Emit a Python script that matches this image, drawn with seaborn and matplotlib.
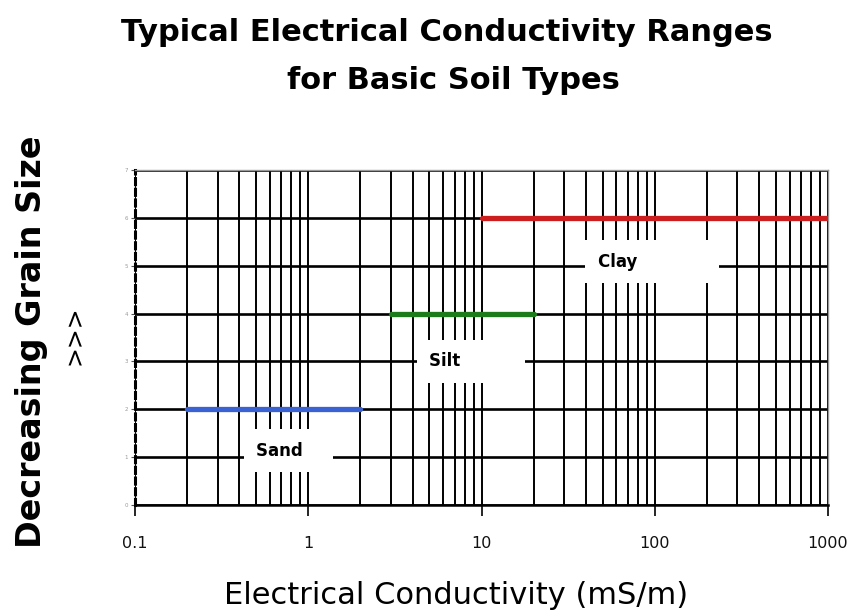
import numpy as np
import pandas as pd
import matplotlib
matplotlib.use("Agg")
import matplotlib.pyplot as plt
from matplotlib.ticker import LogLocator, FixedLocator, NullFormatter
import seaborn as sns

# conductivity ranges (mS/m) for each soil type, and the grain-size level it sits on
soils = ["Sand", "Silt", "Clay"]
ec_low = [0.2, 3, 10]
ec_high = [2, 20, 1000]
levels = [2, 4, 6]
colors = ["#3a62d2", "#1c7c1c", "#cc1e1e"]

# where the soil names go (left edge of text, vertical centre)
label_x = [0.5, 5.0, 47.0]
label_y = [1.13, 3.0, 5.08]
label_pad = ["   ", "         ", "            "]

xticks = [0.1, 1, 10, 100, 1000]
xticklabels = ["0.1", "1", "10", "100", "1000"]
yticks = list(range(0, 8))

rows = []
for s, lo, hi, lv in zip(soils, ec_low, ec_high, levels):
    rows.append({"soil": s, "ec": lo, "level": lv})
    rows.append({"soil": s, "ec": hi, "level": lv})
df = pd.DataFrame(rows)

sns.set_style("white")
plt.rcParams["font.family"] = ["DejaVu Sans"]
plt.rcParams["text.color"] = "black"

fig, ax = plt.subplots(figsize=(8.49, 6.14), dpi=100)
fig.subplots_adjust(left=135 / 849, right=828 / 849, top=1 - 170 / 614, bottom=1 - 505 / 614)

ax.set_xscale("log")
ax.set_xlim(0.1, 1000)
ax.set_ylim(0, 7)

# grid first
ax.xaxis.set_major_locator(FixedLocator(xticks))
ax.xaxis.set_minor_locator(LogLocator(base=10, subs=np.arange(2, 10)))
ax.xaxis.set_minor_formatter(NullFormatter())
ax.set_xticklabels(xticklabels)
ax.set_yticks(yticks)
ax.set_yticklabels([str(t) for t in yticks])
ax.grid(True, which="major", axis="x", color="black", lw=1.4)
ax.grid(True, which="minor", axis="x", color="black", lw=1.4)
ax.grid(True, which="major", axis="y", color="black", lw=1.9)
ax.set_axisbelow(True)

sns.lineplot(data=df, x="ec", y="level", hue="soil", palette=dict(zip(soils, colors)),
             units="soil", estimator=None, legend=False, lw=3.8, ax=ax, zorder=3)

for s, x, y, p in zip(soils, label_x, label_y, label_pad):
    ax.text(x, y, s + p, ha="left", va="center", fontsize=12, fontweight="bold",
            color="black", zorder=4,
            bbox=dict(boxstyle="square,pad=0.75", fc="white", ec="none"))

ax.set_xlabel("")
ax.set_ylabel("")
ax.tick_params(axis="x", which="major", length=8, width=1.2, color="black",
               pad=14, labelsize=11.5, labelcolor="#111111", direction="out", bottom=True)
ax.tick_params(axis="x", which="minor", length=0)
ax.tick_params(axis="y", which="major", length=3, width=0.8, labelsize=4,
               labelcolor="#999999", pad=2, left=True, color="#555555")

for side in ["top", "right"]:
    ax.spines[side].set_color("#999999")
    ax.spines[side].set_linewidth(1)
ax.spines["bottom"].set_color("black")
ax.spines["bottom"].set_linewidth(1.8)
ax.spines["left"].set_color("black")
ax.spines["left"].set_linewidth(2.2)
ax.spines["left"].set_linestyle((0, (2, 1.5)))

fig.text(447 / 849, 1 - 41 / 614, "Typical Electrical Conductivity Ranges",
         ha="center", va="baseline", fontsize=22, fontweight="bold")
fig.text(453 / 849, 1 - 89 / 614, "for Basic Soil Types",
         ha="center", va="baseline", fontsize=22, fontweight="bold")
fig.text(456 / 849, 1 - 604 / 614, "Electrical Conductivity (mS/m)",
         ha="center", va="baseline", fontsize=22)
fig.text(32 / 849, 1 - 342 / 614, "Decreasing Grain Size",
         ha="center", va="center", rotation=90, fontsize=24, fontweight="bold")
fig.text(75 / 849, 1 - 335 / 614, ">>>",
         ha="center", va="center", rotation=90, fontsize=17)

fig.savefig("out.png", dpi=100)
